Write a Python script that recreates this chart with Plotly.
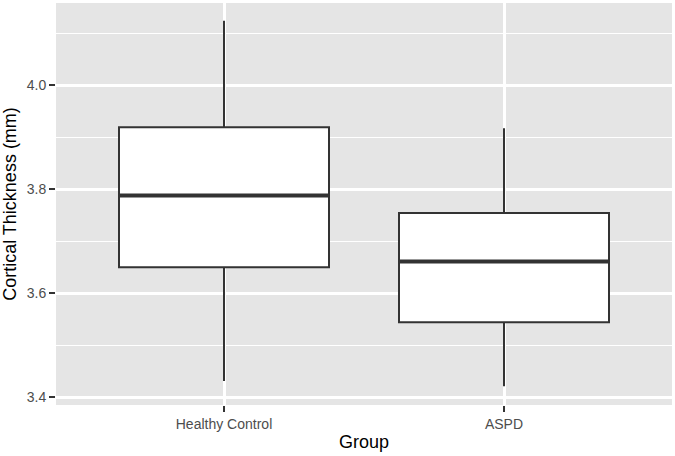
import plotly.graph_objects as go

groups = ["Healthy Control", "ASPD"]
upper_whisker = [4.124, 3.917]
q3 = [3.919, 3.754]
median = [3.788, 3.661]
q1 = [3.650, 3.544]
lower_whisker = [3.431, 3.421]

y_ticks = [3.4, 3.6, 3.8, 4.0]
y_minor = [3.5, 3.7, 3.9, 4.1]

fig = go.Figure()
box_w = 0.75
for i, g in enumerate(groups):
    fig.add_trace(go.Box(
        x=[i], q1=[q1[i]], median=[median[i]], q3=[q3[i]],
        lowerfence=[lower_whisker[i]], upperfence=[upper_whisker[i]],
        width=box_w, whiskerwidth=0, fillcolor="white",
        line=dict(color="#333333", width=2), boxpoints=False,
        hoverinfo="skip", showlegend=False, name=g))
    fig.add_trace(go.Scatter(
        x=[i - box_w / 2, i + box_w / 2], y=[median[i], median[i]],
        mode="lines", line=dict(color="#333333", width=4),
        hoverinfo="skip", showlegend=False))

font = "Liberation Sans, Arial, sans-serif"
fig.update_layout(
    width=675, height=456,
    margin=dict(l=56, r=3, t=3, b=51),
    paper_bgcolor="white", plot_bgcolor="#E5E5E5",
    font=dict(family=font),
    xaxis=dict(
        range=[-0.6, 1.6], tickmode="array", tickvals=[0, 1], ticktext=groups,
        showgrid=True, gridcolor="white", gridwidth=2.5, zeroline=False,
        ticks="outside", ticklen=6, tickwidth=2, tickcolor="#333333",
        tickfont=dict(size=14, color="#4D4D4D", family=font),
        title=dict(text="Group", font=dict(size=18, color="black"), standoff=4),
        automargin=False,
    ),
    yaxis=dict(
        range=[3.385, 4.158], tickmode="array", tickvals=y_ticks,
        ticktext=[f"{v:.1f}" for v in y_ticks],
        showgrid=True, gridcolor="white", gridwidth=2.5, zeroline=False,
        ticks="outside", ticklen=6, tickwidth=2, tickcolor="#333333",
        tickfont=dict(size=14, color="#4D4D4D", family=font),
        title=dict(text="Cortical Thickness (mm)", font=dict(size=18, color="black"), standoff=8),
        minor=dict(tickvals=y_minor, showgrid=True, gridcolor="white", gridwidth=1.2, ticks=""),
        automargin=False,
    ),
)

fig.write_html("out.html", config={"displayModeBar": False},
               post_script="document.body.style.margin='0';document.body.style.overflow='hidden';")
